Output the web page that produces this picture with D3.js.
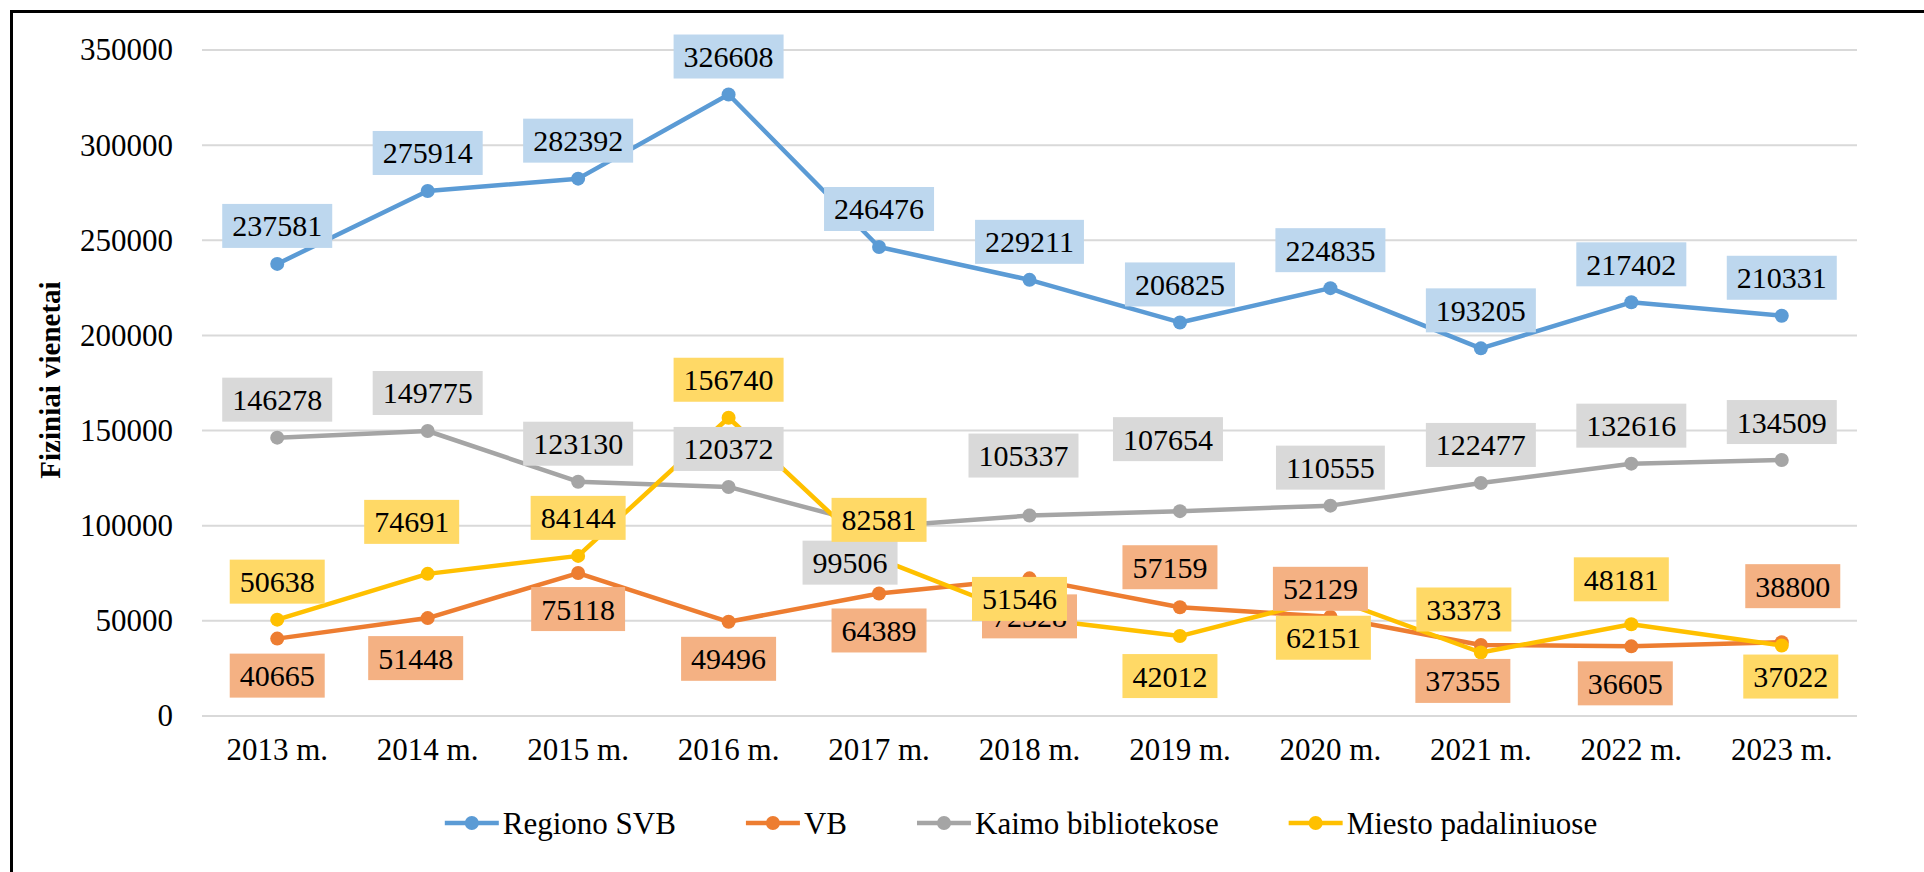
<!DOCTYPE html>
<meta charset="utf-8">
<script src="https://cdn.jsdelivr.net/npm/d3@7"></script>
<style>
body { margin: 0; background: #fff; }
text { font-family: "Liberation Serif", "Times New Roman", serif; fill: #000; }
.grid line { stroke: #d9d9d9; stroke-width: 2px; }
.series path { fill: none; stroke-width: 4.5px; stroke-linejoin: round; }
</style>
<body>
<script>

// data
var years = ["2013 m.", "2014 m.", "2015 m.", "2016 m.", "2017 m.", "2018 m.",
             "2019 m.", "2020 m.", "2021 m.", "2022 m.", "2023 m."];
var regionoSVB = [237581, 275914, 282392, 326608, 246476, 229211, 206825, 224835, 193205, 217402, 210331];
var vb         = [40665, 51448, 75118, 49496, 64389, 72328, 57159, 52129, 37355, 36605, 38800];
var kaimo      = [146278, 149775, 123130, 120372, 99506, 105337, 107654, 110555, 122477, 132616, 134509];
var miesto     = [50638, 74691, 84144, 156740, 82581, 51546, 42012, 62151, 33373, 48181, 37022];
var yTicks = [0, 50000, 100000, 150000, 200000, 250000, 300000, 350000];

// label nudges (px from the point), as placed in the original
var blueNudge   = [[0,-38],[0,-38],[0,-38],[0,-38],[0,-38],[0,-38],[0,-38],[0,-38],[0,-38],[0,-38],[0,-38]];
var orangeNudge = [[0,37],[-12,40],[0,36],[0,37],[0,37],[0,38],[-10,-40],[-10,-28],[-18,36],[-6,37],[11,-56]];
var grayNudge   = [[0,-38],[0,-38],[0,-38],[0,-38],[-29,36],[-6,-60],[-12,-72],[0,-38],[0,-38],[0,-38],[0,-38]];
var yellowNudge = [[0,-38],[-16,-52],[0,-38],[0,-38],[0,-39],[-10,-19],[-10,40],[-7,40],[-17,-43],[-10,-45],[9,31]];

var series = [
  {name: "Regiono SVB", values: regionoSVB, color: "#5b9bd5", box: "#bdd7ee", nudge: blueNudge},
  {name: "VB", values: vb, color: "#ed7d31", box: "#f4b183", nudge: orangeNudge},
  {name: "Kaimo bibliotekose", values: kaimo, color: "#a5a5a5", box: "#d9d9d9", nudge: grayNudge},
  {name: "Miesto padaliniuose", values: miesto, color: "#ffc000", box: "#ffd966", nudge: yellowNudge}
];

var width = 1924,
    height = 872;

var svg = d3.select("body").append("svg")
    .attr("width", width)
    .attr("height", height);

// outer frame
svg.append("rect")
    .attr("x", 11.5).attr("y", 11.5)
    .attr("width", width).attr("height", height + 40)
    .attr("fill", "none")
    .attr("stroke", "#000")
    .attr("stroke-width", 3);

var x = d3.scaleBand().domain(years).range([202, 1857]);
var y = d3.scaleLinear().domain([0, 350000]).range([716, 50]);
var cx = function(i) { return x(years[i]) + x.bandwidth() / 2; };

// gridlines
svg.append("g").attr("class", "grid")
  .selectAll("line")
  .data(yTicks)
  .enter().append("line")
    .attr("x1", 202).attr("x2", 1857)
    .attr("y1", function(d) { return y(d); })
    .attr("y2", function(d) { return y(d); });

// y axis labels
var yAxis = svg.append("g")
    .attr("transform", "translate(173,0)")
    .call(d3.axisLeft(y).tickValues(yTicks).tickSize(0).tickPadding(0).tickFormat(d3.format("d")));
yAxis.select(".domain").remove();
yAxis.selectAll("text")
    .style("font-family", "Liberation Serif, serif")
    .style("font-size", "31px")
    .attr("fill", "#000");

// x axis labels
var xAxis = svg.append("g")
    .attr("transform", "translate(0,738)")
    .call(d3.axisBottom(x).tickSize(0).tickPadding(0));
xAxis.select(".domain").remove();
xAxis.selectAll("text")
    .style("font-family", "Liberation Serif, serif")
    .style("font-size", "31px")
    .attr("fill", "#000");

// y title
svg.append("text")
    .attr("transform", "translate(50,380) rotate(-90)")
    .attr("text-anchor", "middle")
    .attr("dominant-baseline", "central")
    .style("font-size", "29px")
    .style("font-weight", "bold")
    .text("Fiziniai vienetai");

// lines + markers
var line = d3.line()
    .x(function(d, i) { return cx(i); })
    .y(function(d) { return y(d); });

var g = svg.selectAll(".series")
    .data(series)
  .enter().append("g")
    .attr("class", "series");

g.append("path")
    .attr("d", function(s) { return line(s.values); })
    .attr("stroke", function(s) { return s.color; });

g.selectAll("circle")
    .data(function(s) { return s.values.map(function(v) { return {v: v, c: s.color}; }); })
  .enter().append("circle")
    .attr("cx", function(d, i) { return cx(i); })
    .attr("cy", function(d) { return y(d.v); })
    .attr("r", 7)
    .attr("fill", function(d) { return d.c; });

// data labels, drawn after all lines
series.forEach(function(s) {
  var lg = svg.append("g");
  s.values.forEach(function(v, i) {
    var px = cx(i) + s.nudge[i][0],
        py = y(v) + s.nudge[i][1];
    var bg = lg.append("rect").attr("fill", s.box);
    var t = lg.append("text")
        .attr("x", px).attr("y", py)
        .attr("text-anchor", "middle")
        .attr("dominant-baseline", "central")
        .style("font-size", "30px")
        .text(v);
    var w = t.node().getComputedTextLength() + 20;
    bg.attr("x", px - w / 2).attr("y", py - 22)
      .attr("width", w).attr("height", 44);
  });
});

// legend
var legend = svg.append("g");
var lx = 0;
series.forEach(function(s) {
  var item = legend.append("g").attr("transform", "translate(" + lx + ",0)");
  item.append("line")
      .attr("x1", 0).attr("x2", 54)
      .attr("y1", 0).attr("y2", 0)
      .attr("stroke", s.color)
      .attr("stroke-width", 4.5);
  item.append("circle")
      .attr("cx", 27).attr("cy", 0).attr("r", 7)
      .attr("fill", s.color);
  var t = item.append("text")
      .attr("x", 58).attr("y", 0)
      .attr("dominant-baseline", "central")
      .style("font-size", "31px")
      .text(s.name);
  lx += 58 + t.node().getComputedTextLength() + 70;
});
var legendW = lx - 70;
legend.attr("transform", "translate(" + (1021 - legendW / 2) + ",823)");

</script>
</body>
